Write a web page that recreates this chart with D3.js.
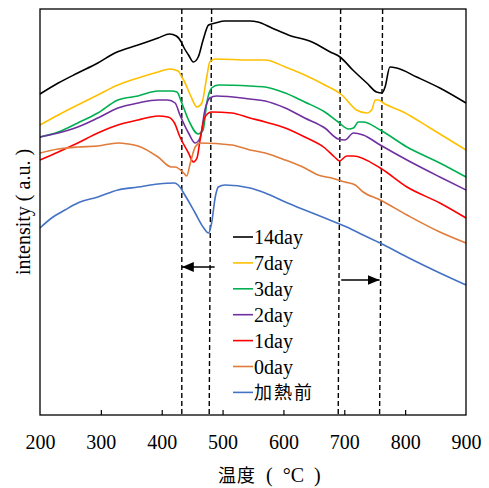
<!DOCTYPE html>
<html>
<head>
<meta charset="utf-8">
<script src="https://cdn.jsdelivr.net/npm/d3@7"></script>
<style>
  html, body { margin: 0; padding: 0; background: #fff; }
  svg { display: block; }
</style>
</head>
<body>
<svg id="chart" width="489" height="488"></svg>
<script>
// Temperature (°C) / intensity (a.u.) samples for each heating duration
const day14 = [[200,321],[230,332],[262,342],[295,352],[323,362],[361,370],[394,377],[413,381],[424,379],[433,372],[436,368],[444,360],[452,353],[460,358],[468,375],[477,390],[488,392],[504,394],[545,394],[558,393],[581,387],[608,380],[647,373],[677,363],[693,358],[714,345],[737,332],[753,323],[762,322],[767,328],[775,348],[786,347],[819,338],[857,327],[900,312]];
const day7 = [[200,290],[230,300],[262,310],[295,320],[328,330],[361,337],[394,343],[413,346],[427,344],[433,338],[436,335],[447,320],[458,308],[466,312],[474,338],[479,353],[488,356],[545,355],[570,355],[603,348],[635,340],[668,330],[696,320],[720,305],[737,302],[745,305],[751,315],[756,315],[764,312],[797,303],[841,287],[900,265]];
const day3 = [[200,278],[230,283],[262,292],[295,302],[328,315],[361,319],[394,324],[416,324],[425,323],[433,312],[444,295],[460,281],[468,285],[474,312],[482,327],[493,330],[545,329],[570,328],[603,322],[635,313],[668,303],[690,293],[707,286],[715,287],[723,293],[731,293],[759,285],[803,268],[857,252],[900,238]];
const day2 = [[200,278],[230,282],[262,288],[295,297],[328,307],[361,312],[394,315],[410,315],[422,312],[430,300],[444,282],[455,272],[463,277],[471,305],[479,317],[490,319],[545,316],[570,314],[603,307],[635,297],[668,287],[690,276],[701,275],[715,282],[731,280],[759,270],[803,255],[857,238],[900,225]];
const day1 = [[200,255],[230,263],[262,272],[295,282],[328,290],[361,295],[394,299],[410,298],[421,292],[430,278],[444,262],[452,253],[458,257],[463,275],[471,298],[482,303],[515,302],[545,297],[570,293],[603,287],[635,278],[668,267],[684,258],[692,254],[704,259],[715,259],[759,247],[803,228],[857,212],[900,197]];
const day0 = [[200,262],[230,266],[262,268],[295,269],[328,272],[345,271],[361,269],[394,258],[416,248],[422,248],[436,242],[441,239],[447,252],[455,268],[463,272],[515,270],[545,265],[570,262],[603,255],[635,247],[657,240],[679,237],[701,233],[718,230],[731,223],[759,215],[803,200],[857,183],[900,172]];
const unheated = [[200,187],[219,197],[241,205],[262,212],[295,218],[328,225],[361,228],[394,231],[421,232],[427,230],[438,220],[455,202],[468,188],[477,182],[482,192],[488,218],[493,228],[504,230],[545,227],[570,222],[603,213],[635,205],[668,197],[704,188],[731,180],[759,172],[803,158],[857,142],[900,130]];

const seriesNames = ["14day", "7day", "3day", "2day", "1day", "0day", "加熱前"];
const seriesData = [day14, day7, day3, day2, day1, day0, unheated];
const seriesColors = ["#000000", "#FFC000", "#00B050", "#7030A0", "#FF0000", "#E07B39", "#4472C4"];

const xTicks = [200, 300, 400, 500, 600, 700, 800, 900];
// Reference temperatures marked by dashed lines (top end, bottom end)
const markerTop = [433, 482, 694, 763];
const markerBottom = [433, 478, 690, 758];
// Shift arrows: [from, to, intensity level]
const shiftArrows = [[487, 433, 148], [695, 758, 135]];

const xLabelName = "温度";
const xLabelUnit = " ( °C )";
const yLabel = "intensity ( a.u. )";

(function draw() {
  const svg = d3.select("#chart");
  const pLeft = 40, pRight = 466, pTop = 9, pBottom = 415;

  const x = d3.scaleLinear().domain([200, 900]).range([pLeft, pRight]);
  const y = d3.scaleLinear().domain([0, 406]).range([pBottom, pTop]);

  const serif = "'Liberation Serif', 'Times New Roman', serif";
  const cjk = "'Noto Sans CJK JP', 'Noto Sans CJK SC', sans-serif";

  // arrowhead marker
  svg.append("defs").append("marker")
    .attr("id", "head")
    .attr("viewBox", "0 0 12 10")
    .attr("refX", 12).attr("refY", 5)
    .attr("markerWidth", 12).attr("markerHeight", 10)
    .attr("markerUnits", "userSpaceOnUse")
    .attr("orient", "auto")
    .append("path").attr("d", "M0,0 L12,5 L0,10 Z").attr("fill", "#000");

  // dashed reference lines
  svg.append("g").selectAll("line").data(markerTop).join("line")
    .attr("x1", d => x(d)).attr("y1", pTop)
    .attr("x2", (d, i) => x(markerBottom[i])).attr("y2", pBottom)
    .attr("stroke", "#000").attr("stroke-width", 1.4)
    .attr("stroke-dasharray", "5,3");

  // curves
  const line = d3.line()
    .x(d => x(d[0])).y(d => y(d[1]))
    .curve(d3.curveMonotoneX);

  svg.append("g").selectAll("path").data(seriesData).join("path")
    .attr("d", line)
    .attr("fill", "none")
    .attr("stroke", (d, i) => seriesColors[i])
    .attr("stroke-width", 1.6)
    .attr("stroke-linejoin", "round");

  // shift arrows
  svg.append("g").selectAll("line").data(shiftArrows).join("line")
    .attr("x1", d => x(d[0])).attr("y1", d => y(d[2]))
    .attr("x2", d => x(d[1])).attr("y2", d => y(d[2]))
    .attr("stroke", "#000").attr("stroke-width", 1.6)
    .attr("marker-end", "url(#head)");

  // frame
  svg.append("rect")
    .attr("x", pLeft).attr("y", pTop)
    .attr("width", pRight - pLeft).attr("height", pBottom - pTop)
    .attr("fill", "none").attr("stroke", "#000").attr("stroke-width", 1.3);

  // x axis with inward ticks
  const xAxis = d3.axisBottom(x).tickValues(xTicks).tickFormat(d3.format("d"))
    .tickSizeInner(-5).tickSizeOuter(0).tickPadding(0);
  const gx = svg.append("g").attr("transform", `translate(0,${pBottom})`).call(xAxis);
  gx.select(".domain").remove();
  gx.selectAll(".tick line").attr("stroke", "#000").attr("stroke-width", 1.2)
    .filter(d => d === 200 || d === 900).remove();
  gx.selectAll(".tick text")
    .attr("y", 34).attr("dy", null)
    .attr("font-family", serif).attr("font-size", 20).attr("fill", "#000");

  // axis titles
  const xt = svg.append("text")
    .attr("x", 218).attr("y", 482)
    .attr("fill", "#000")
    .style("white-space", "pre");
  xt.append("tspan").attr("font-family", cjk).attr("font-size", 18).attr("letter-spacing", 1).text(xLabelName);
  xt.append("tspan").attr("font-family", serif).attr("font-size", 20).text(xLabelUnit.replace(/ /g, "\u00a0\u00a0"));

  svg.append("text")
    .attr("transform", `translate(30,${(pTop + pBottom) / 2}) rotate(-90)`)
    .attr("text-anchor", "middle")
    .attr("font-family", serif).attr("font-size", 20).attr("fill", "#000")
    .text(yLabel);

  // legend
  const legend = svg.append("g").attr("transform", "translate(233,237)");
  const rows = legend.selectAll("g").data(seriesNames).join("g")
    .attr("transform", (d, i) => `translate(0,${i * 25.9})`);
  rows.append("line")
    .attr("x1", 0).attr("x2", 20).attr("y1", 0).attr("y2", 0)
    .attr("stroke", (d, i) => seriesColors[i]).attr("stroke-width", 1.6);
  rows.append("text")
    .attr("x", 21).attr("y", 7)
    .attr("font-family", (d, i) => i === 6 ? cjk : serif)
    .attr("font-size", (d, i) => i === 6 ? 18 : 20)
    .attr("letter-spacing", (d, i) => i === 6 ? 2 : 0)
    .attr("fill", "#000")
    .text(d => d);
})();
</script>
</body>
</html>
